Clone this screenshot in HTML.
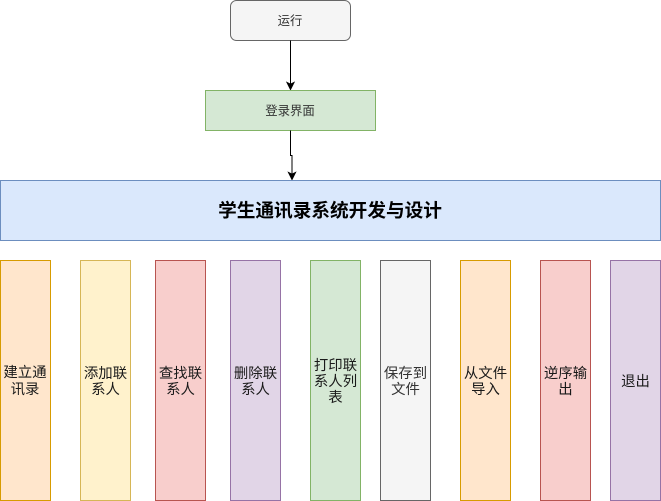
<!DOCTYPE html>
<html lang="zh">
<head>
<meta charset="utf-8">
<style>
html,body{margin:0;padding:0;background:#fff;width:661px;height:501px;overflow:hidden}
svg{display:block}
text{font-family:"Liberation Sans","Noto Sans CJK SC",sans-serif;text-anchor:middle;dominant-baseline:central}
.t{font-size:14.4px;fill:#1a1a1a}
.s{font-size:12.4px;fill:#333}
</style>
</head>
<body>
<svg width="661" height="501" viewBox="0 0 661 501" xmlns="http://www.w3.org/2000/svg">
<rect x="230.5" y="0.5" width="120" height="40" rx="6" ry="6" fill="#f5f5f5" stroke="#666"/>
<text class="s" x="290" y="21">运行</text>
<path d="M290.5 40.5V84" fill="none" stroke="#000"/>
<path d="M290.5 89.5L287 82.5L290.5 84.2L294 82.5Z" fill="#000" stroke="#000"/>
<rect x="205.5" y="90.5" width="170" height="40" fill="#d5e8d4" stroke="#82b366"/>
<text class="s" x="290" y="111">登录界面</text>
<path d="M290.5 130.5V155.5H292V174" fill="none" stroke="#000"/>
<path d="M292 179.5L288.5 172.5L292 174.2L295.5 172.5Z" fill="#000" stroke="#000"/>
<rect x="0.5" y="180.5" width="660" height="60" fill="#dae8fc" stroke="#6c8ebf"/>
<text x="330" y="210.5" font-size="18.67" font-weight="bold" fill="#000">学生通讯录系统开发与设计</text>

<rect x="0.5" y="260.5" width="50" height="240" fill="#ffe6cc" stroke="#d79b00"/>
<text class="t" x="25" y="373">建立通</text><text class="t" x="25" y="390">讯录</text>
<rect x="80.5" y="260.5" width="50" height="240" fill="#fff2cc" stroke="#d6b656"/>
<text class="t" x="105.5" y="374">添加联</text><text class="t" x="105.5" y="390">系人</text>
<rect x="155.5" y="260.5" width="50" height="240" fill="#f8cecc" stroke="#b85450"/>
<text class="t" x="180.5" y="374">查找联</text><text class="t" x="180.5" y="390">系人</text>
<rect x="230.5" y="260.5" width="50" height="240" fill="#e1d5e7" stroke="#9673a6"/>
<text class="t" x="255.5" y="374">删除联</text><text class="t" x="255.5" y="390">系人</text>
<rect x="310.5" y="260.5" width="50" height="240" fill="#d5e8d4" stroke="#82b366"/>
<text class="t" x="335.5" y="366">打印联</text><text class="t" x="335.5" y="382">系人列</text><text class="t" x="335.5" y="398">表</text>
<rect x="380.5" y="260.5" width="50" height="240" fill="#f5f5f5" stroke="#666"/>
<text class="t" x="405.5" y="374" style="fill:#333">保存到</text><text class="t" x="405.5" y="390" style="fill:#333">文件</text>
<rect x="460.5" y="260.5" width="50" height="240" fill="#ffe6cc" stroke="#d79b00"/>
<text class="t" x="485.5" y="374">从文件</text><text class="t" x="485.5" y="390">导入</text>
<rect x="540.5" y="260.5" width="50" height="240" fill="#f8cecc" stroke="#b85450"/>
<text class="t" x="565.5" y="374">逆序输</text><text class="t" x="565.5" y="390">出</text>
<rect x="610.5" y="260.5" width="50" height="240" fill="#e1d5e7" stroke="#9673a6"/>
<text class="t" x="635.5" y="382">退出</text>
</svg>
</body>
</html>
